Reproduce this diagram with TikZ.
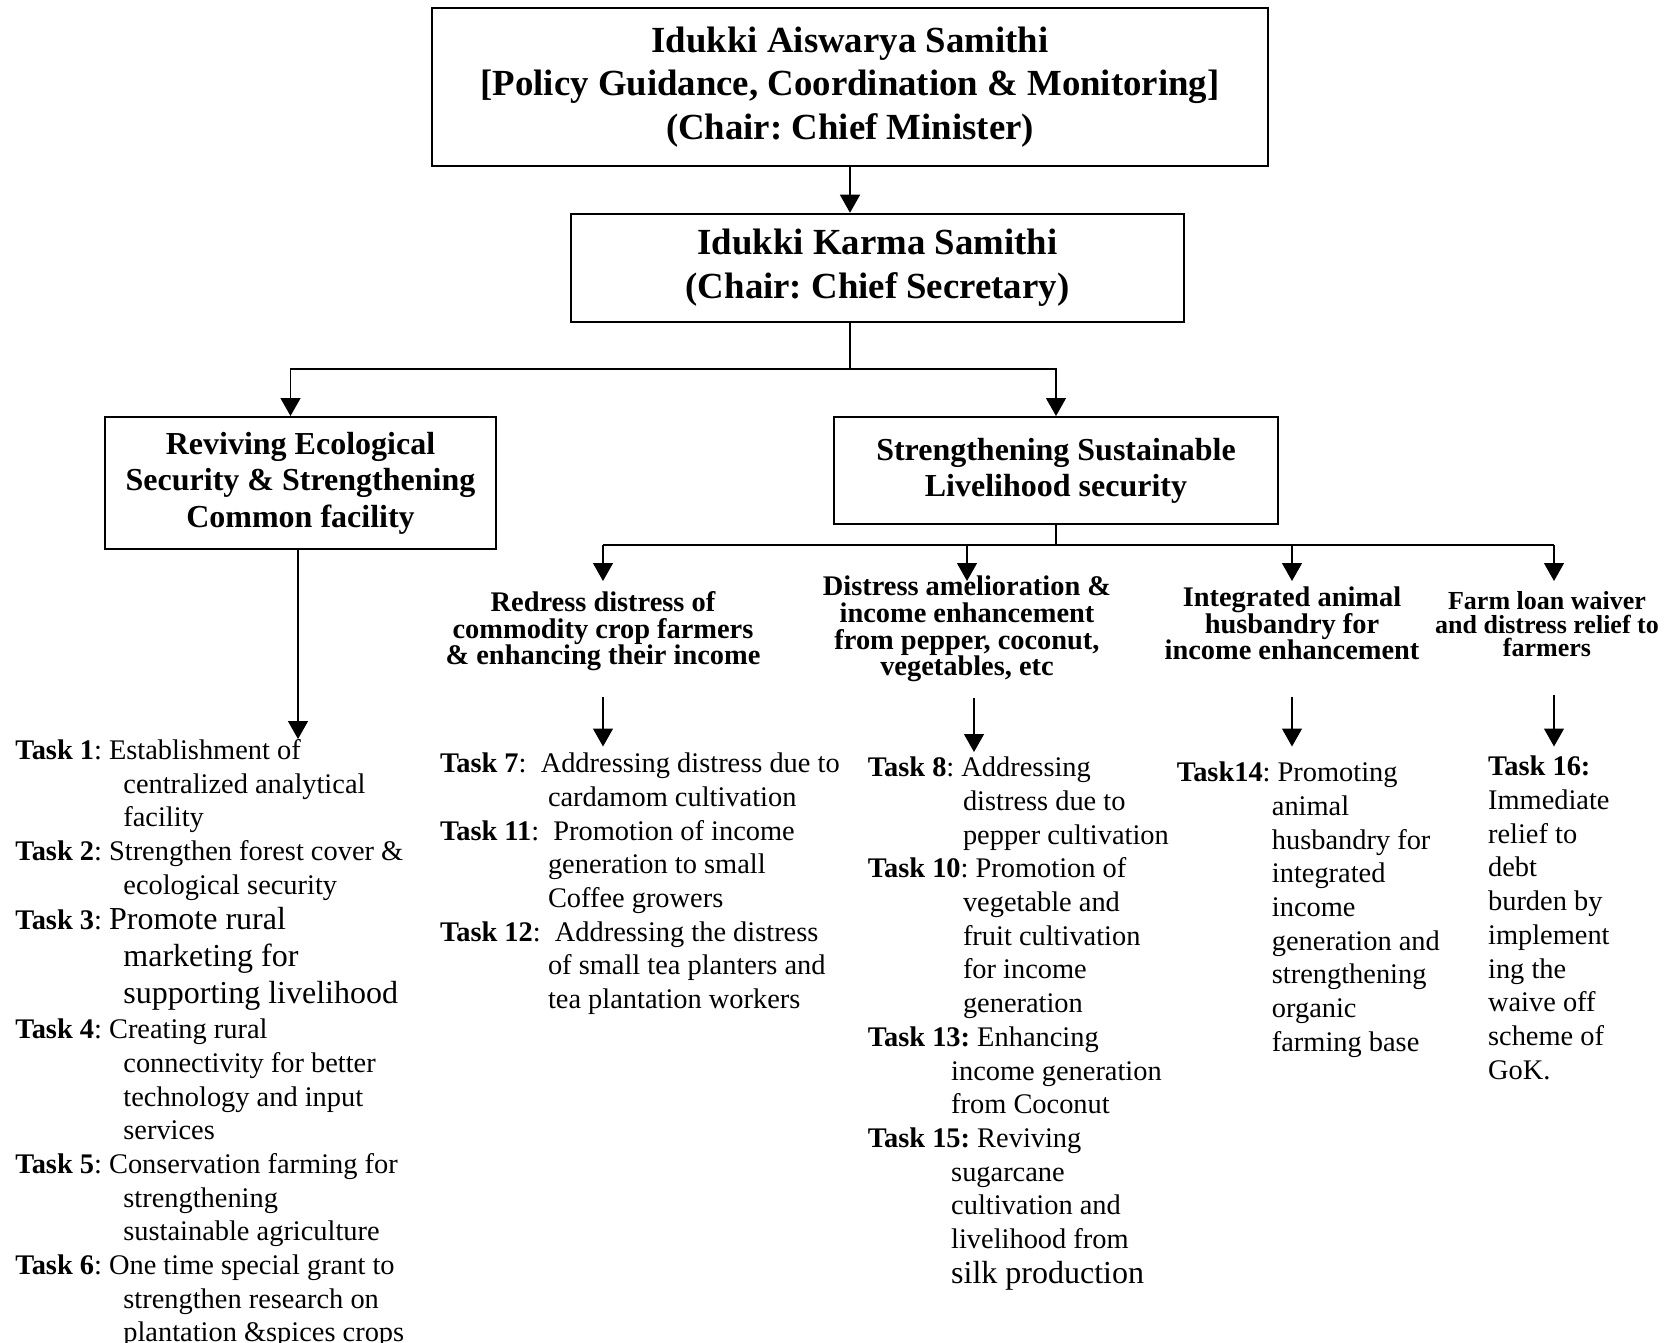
\documentclass[tikz,border=0pt]{standalone}
\usepackage{fontspec}
\setmainfont{Liberation Serif}
\usetikzlibrary{arrows.meta,positioning}

\newcommand{\bigtxt}{\fontsize{16}{18.5}\selectfont}

\begin{document}
\frenchspacing
\setlength{\lineskiplimit}{-20pt}
\begin{tikzpicture}[
    x=0.5pt, y=-0.5pt,
    box/.style={rectangle, draw, line width=1pt, align=center, inner sep=0pt, font=\fontsize{18.4}{21.6}\selectfont\bfseries},
    pillar/.style={box, font=\fontsize{16}{18.2}\selectfont\bfseries},
    head/.style={anchor=north, align=center, inner xsep=0pt, font=\fontsize{14.2}{13.4}\selectfont\bfseries},
    tasks/.style={anchor=north west, align=left, inner xsep=0pt, font=\fontsize{14.2}{16.85}\selectfont},
    arrow/.style={-{Triangle[width=10pt,length=9pt]}, line width=0.7pt},
    link/.style={line width=0.7pt}
]
\path[use as bounding box, fill=white] (0,0) rectangle (1677,1343);

% Level 1: Samithis
\node[box, minimum width=418pt, minimum height=79.25pt] (top) at (850,87)
    {Idukki Aiswarya Samithi\\ {[}Policy Guidance, Coordination \& Monitoring{]}\\ (Chair: Chief Minister)};
\node[box, minimum width=306.5pt, minimum height=54pt, below=22.75pt of top, xshift=13.75pt] (karma)
    {Idukki Karma Samithi\\ (Chair: Chief Secretary)};

% Level 2: two pillars
\node[pillar, minimum width=195.5pt, minimum height=66pt] (eco) at (300.5,483)
    {Reviving Ecological\\ Security \& Strengthening\\ Common facility};
\node[pillar, minimum width=222pt, minimum height=53.5pt, text depth=3pt] (sustain) at (1056,470.5)
    {Strengthening Sustainable\\ Livelihood security};

\coordinate (split) at (850,369);
\coordinate[below=10pt of sustain.south] (bus);

% Level 3: livelihood themes
\node[head, inner ysep=4.9pt] (redress) at (603,581)
    {Redress distress of\\ commodity crop farmers\\ \& enhancing their income};
\node[head, inner ysep=-2.8pt] (pepper) at (967,581)
    {Distress amelioration \&\\ income enhancement\\ from pepper, coconut,\\ vegetables, etc};
\node[head, inner ysep=2.9pt, font=\fontsize{14.2}{13.1}\selectfont\bfseries] (animal) at (1292,581)
    {Integrated animal\\ husbandry for\\ income enhancement};
\node[head, inner ysep=5pt, font=\fontsize{13}{11.8}\selectfont\bfseries] (loan) at (1547,581)
    {Farm loan waiver\\ and distress relief to\\ farmers};
\coordinate (loanin) at ([xshift=3.5pt]loan.north);
\coordinate (loanout) at ([xshift=3.5pt]loan.south);
\coordinate (pepperout) at ([xshift=3.5pt]pepper.south);

% Task lists
\node[tasks, inner ysep=0pt] (tasksA) at (15,739) {%
\textbf{Task 1}: Establishment of\\
\hspace*{54pt}centralized analytical\\
\hspace*{54pt}facility\\
\textbf{Task 2}: Strengthen forest cover \&\\
\hspace*{54pt}ecological security\\[0.8pt]
\textbf{Task 3}: {\bigtxt Promote rural}\\[1.85pt]
\hspace*{54pt}{\bigtxt marketing for}\\[1.35pt]
\hspace*{54pt}{\bigtxt supporting livelihood}\\[0.8pt]
\textbf{Task 4}: Creating rural\\
\hspace*{54pt}connectivity for better\\
\hspace*{54pt}technology and input\\
\hspace*{54pt}services\\
\textbf{Task 5}: Conservation farming for\\
\hspace*{54pt}strengthening\\
\hspace*{54pt}sustainable agriculture\\
\textbf{Task 6}: One time special grant to\\
\hspace*{54pt}strengthen research on\\
\hspace*{54pt}plantation \&spices crops};

\node[tasks, inner ysep=3pt] (tasksB) at (439.6,746.5) {%
\textbf{Task 7}:\ \ Addressing distress due to\\
\hspace*{54pt}cardamom cultivation\\
\textbf{Task 11}:\ \ Promotion of income\\
\hspace*{54pt}generation to small\\
\hspace*{54pt}Coffee growers\\
\textbf{Task 12}:\ \ Addressing the distress\\
\hspace*{54pt}of small tea planters and\\
\hspace*{54pt}tea plantation workers};

\node[tasks, inner ysep=2.3pt] (tasksC) at (867.4,752) {%
\textbf{Task 8}: Addressing\\
\hspace*{47.6pt}distress due to\\
\hspace*{47.6pt}pepper cultivation\\
\textbf{Task 10}: Promotion of\\
\hspace*{47.6pt}vegetable and\\
\hspace*{47.6pt}fruit cultivation\\
\hspace*{47.6pt}for income\\
\hspace*{47.6pt}generation\\
\textbf{Task 13:} Enhancing\\
\hspace*{41.7pt}income generation\\
\hspace*{41.7pt}from Coconut\\
\textbf{Task 15:} Reviving\\
\hspace*{41.7pt}sugarcane\\
\hspace*{41.7pt}cultivation and\\
\hspace*{41.7pt}livelihood from\\[0.8pt]
\hspace*{41.7pt}{\bigtxt silk production}};

\node[tasks, inner ysep=7.5pt] (tasksD) at (1176.5,746.5) {%
\textbf{Task14}: Promoting\\
\hspace*{47.5pt}animal\\
\hspace*{47.5pt}husbandry for\\
\hspace*{47.5pt}integrated\\
\hspace*{47.5pt}income\\
\hspace*{47.5pt}generation and\\
\hspace*{47.5pt}strengthening\\
\hspace*{47.5pt}organic\\
\hspace*{47.5pt}farming base};

\node[tasks, inner ysep=4.6pt] (tasksE) at (1487.7,746.5) {%
\textbf{Task 16:}\\
Immediate\\
relief to\\
debt\\
burden by\\
implement\\
ing the\\
waive off\\
scheme of\\
GoK.};

% Arrows - top levels
\draw[arrow] (top.south) -- (top.south |- karma.north);
\draw[link] (karma.south -| split) -- (split);
\draw[arrow] (split) -| ([xshift=-5pt]eco.north);
\draw[arrow] (split) -| (sustain.north);

% Arrows - ecological pillar
\draw[arrow] ([xshift=-1.25pt]eco.south) -- ([xshift=-1.25pt]eco.south |- tasksA.north);

% Arrows - livelihood themes
\draw[link] (sustain.south) -- (bus);
\draw[link] (bus -| redress) -- (bus -| loanin);
\foreach \n in {redress,pepper,animal,loanin}
    \draw[arrow] (bus -| \n) -- (\n |- redress.north);

\draw[arrow, shorten <=8pt] (redress.south) -- (redress.south |- tasksB.north);
\draw[arrow, shorten <=10.7pt] (pepperout) -- (pepperout |- tasksC.north);
\draw[arrow, shorten <=15.4pt] (animal.south) -- (animal.south |- tasksD.north);
\draw[arrow, shorten <=14pt] (loanout) -- (loanout |- tasksE.north);

\end{tikzpicture}
\end{document}
